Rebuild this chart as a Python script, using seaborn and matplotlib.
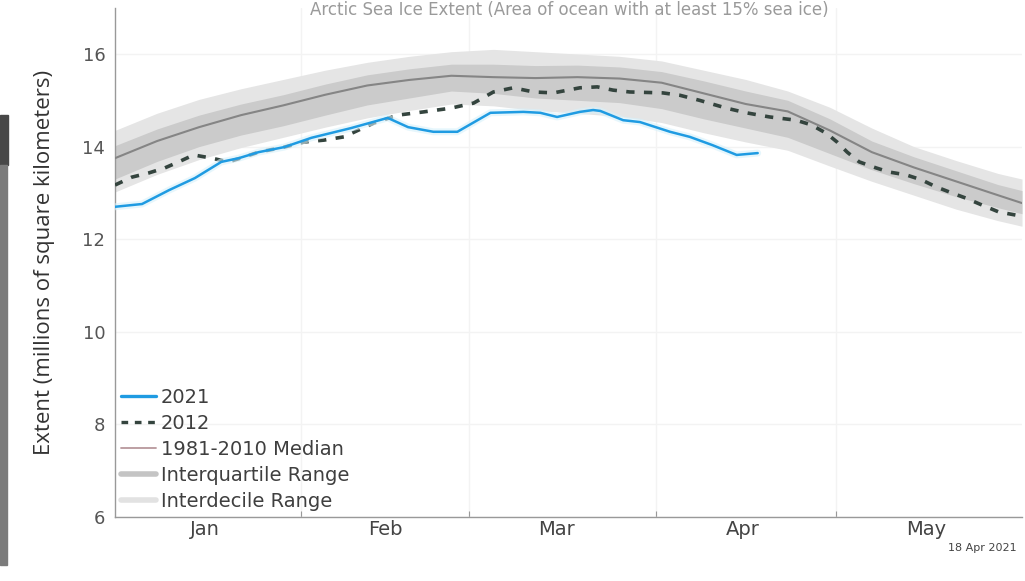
import matplotlib
matplotlib.use("Agg")
import matplotlib.pyplot as plt
import matplotlib.patheffects as pe
from matplotlib.lines import Line2D
from matplotlib.patches import Rectangle
import pandas as pd
import seaborn as sns

# ---- data (day of year, Jan 1 = 0; extent in millions of km^2) ----
clim_days = [0, 7, 14, 21, 28, 35, 42, 49, 56, 63, 70, 77, 84, 91, 98, 105,
             112, 119, 126, 133, 140, 147, 151]
median_1981_2010 = [13.75, 14.12, 14.42, 14.68, 14.89, 15.12, 15.32, 15.44, 15.53,
                    15.50, 15.48, 15.50, 15.47, 15.38, 15.15, 14.92, 14.76, 14.35,
                    13.88, 13.55, 13.25, 12.95, 12.78]
interdecile_hi = [14.35, 14.72, 15.02, 15.25, 15.45, 15.65, 15.82, 15.95, 16.05,
                  16.10, 16.05, 16.00, 15.95, 15.85, 15.65, 15.45, 15.20, 14.85,
                  14.40, 14.00, 13.70, 13.42, 13.30]
interquartile_hi = [14.02, 14.38, 14.68, 14.92, 15.12, 15.35, 15.55, 15.68, 15.78,
                    15.78, 15.75, 15.76, 15.72, 15.62, 15.42, 15.20, 15.00, 14.60,
                    14.12, 13.78, 13.48, 13.18, 13.05]
interquartile_lo = [13.30, 13.68, 14.00, 14.25, 14.45, 14.68, 14.90, 15.05, 15.20,
                    15.15, 15.05, 15.00, 14.95, 14.82, 14.60, 14.40, 14.20, 13.85,
                    13.50, 13.20, 12.92, 12.68, 12.55]
interdecile_lo = [13.02, 13.40, 13.72, 13.98, 14.20, 14.42, 14.62, 14.78, 14.92,
                  14.88, 14.78, 14.72, 14.65, 14.52, 14.30, 14.10, 13.92, 13.58,
                  13.25, 12.95, 12.65, 12.40, 12.28]

days_2021 = [0, 4.5, 9, 13.3, 17.7, 20.6, 23.9, 28.2, 32.7, 39.3, 45.4, 48.8, 53,
             57, 62.5, 68, 70.8, 73.6, 77.4, 79.6, 80.8, 84.6, 87.4, 92.4, 95.7,
             99.5, 103.5, 107]
extent_2021 = [12.70, 12.76, 13.06, 13.32, 13.67, 13.75, 13.88, 13.99, 14.19, 14.40,
               14.62, 14.42, 14.32, 14.32, 14.73, 14.75, 14.73, 14.64, 14.75, 14.79,
               14.77, 14.57, 14.53, 14.32, 14.21, 14.03, 13.82, 13.86]

days_2012 = [0, 2.8, 5.6, 8.3, 10.6, 13.1, 16.1, 18.9, 21.6, 23.9, 28.2, 31.5, 34.8,
             38.1, 43.1, 47.1, 51.4, 55.9, 59.7, 63, 66.3, 69.7, 73, 77.4, 80.3,
             82.9, 85.7, 91.2, 94, 97.3, 101.8, 105.1, 109, 113.4, 115.9, 118.4,
             120.2, 121.9, 123.9, 126.7, 128.9, 131.7, 134.3, 136.7, 139.3, 141.6,
             144.3, 147.1, 150]
extent_2012 = [13.17, 13.34, 13.43, 13.54, 13.67, 13.82, 13.75, 13.67, 13.78, 13.88,
               13.99, 14.10, 14.14, 14.21, 14.51, 14.68, 14.75, 14.83, 14.94, 15.18,
               15.27, 15.18, 15.16, 15.27, 15.29, 15.22, 15.18, 15.16, 15.11, 15.00,
               14.83, 14.73, 14.64, 14.57, 14.47, 14.29, 14.10, 13.88, 13.67, 13.54,
               13.45, 13.39, 13.28, 13.13, 13.00, 12.89, 12.74, 12.59, 12.52]

month_starts = [31, 59, 90, 120]
month_mids = [15, 45, 73.5, 104.5, 135]
month_labels = ["Jan", "Feb", "Mar", "Apr", "May"]
y_ticks = [6, 8, 10, 12, 14, 16]

# ---- styling ----
sns.set_theme(style="white")
plt.rcParams["font.family"] = ["DejaVu Sans"]

BLUE = "#1f9be2"
DASH = "#34443e"
MEDIAN = "#858585"
IQR = "#cbcbcb"
IDR = "#e5e5e5"

fig = plt.figure(figsize=(10.25, 5.81), dpi=100)
ax = fig.add_axes([115 / 1025, 64 / 581, 907 / 1025, 509.3 / 581])

clim = pd.DataFrame({
    "day": clim_days,
    "median": median_1981_2010,
    "id_hi": interdecile_hi, "iq_hi": interquartile_hi,
    "iq_lo": interquartile_lo, "id_lo": interdecile_lo,
})
ax.fill_between(clim["day"], clim["id_lo"], clim["id_hi"], color=IDR, lw=0, zorder=1)
ax.fill_between(clim["day"], clim["iq_lo"], clim["iq_hi"], color=IQR, lw=0, zorder=2)
sns.lineplot(data=clim, x="day", y="median", ax=ax, color=MEDIAN, lw=1.5,
             legend=False, zorder=3)

d2012 = pd.DataFrame({"day": days_2012, "extent": extent_2012})
sns.lineplot(data=d2012, x="day", y="extent", ax=ax, color=DASH, lw=2.6,
             legend=False, zorder=4)
ax.lines[-1].set_linestyle((0, (2.3, 2.6)))

d2021 = pd.DataFrame({"day": days_2021, "extent": extent_2021})
sns.lineplot(data=d2021, x="day", y="extent", ax=ax, color=BLUE, lw=1.8,
             legend=False, zorder=5)
ax.lines[-1].set_path_effects([pe.Stroke(linewidth=5, foreground="#d6f1fb", alpha=0.6),
                               pe.Normal()])

# ---- axes ----
ax.set_xlim(0, 151)
ax.set_ylim(6, 17)
ax.set_xlabel("")
ax.set_ylabel("Extent (millions of square kilometers)", fontsize=16,
              color="#333333", labelpad=20, family=["Open Sans", "DejaVu Sans"])

ax.set_xticks(month_starts)
ax.set_xticklabels([])
ax.set_xticks(month_mids, minor=True)
ax.set_xticklabels(month_labels, minor=True, fontsize=14, color="#444444")
ax.tick_params(axis="x", which="major", direction="in", length=4, width=0.8,
               color="#999999", bottom=True)
ax.tick_params(axis="x", which="minor", length=0, pad=2)
ax.set_yticks(y_ticks)
ax.set_yticklabels([str(v) for v in y_ticks], fontsize=13, color="#555555")
ax.tick_params(axis="y", length=0, pad=7)

ax.grid(True, axis="both", which="major", color="#f3f3f3", lw=1)
ax.set_axisbelow(True)
for side in ("top", "right"):
    ax.spines[side].set_visible(False)
for side in ("left", "bottom"):
    ax.spines[side].set_color("#999999")
    ax.spines[side].set_linewidth(1.0)

handles = [
    Line2D([], [], color=BLUE, lw=2.4),
    Line2D([], [], color=DASH, lw=2.4, ls=(0, (2.0, 2.0))),
    Line2D([], [], color="#b8979c", lw=1.3),
    Line2D([], [], color="#c4c4c4", lw=4),
    Line2D([], [], color="#e2e2e2", lw=4),
]
labels = ["2021", "2012", "1981-2010 Median", "Interquartile Range", "Interdecile Range"]
ax.legend(handles, labels, loc="lower left", bbox_to_anchor=(0.0, 0.0),
          frameon=False, fontsize=14, handlelength=1.8, handletextpad=0.25,
          labelspacing=0.36, borderpad=0.15, borderaxespad=0.15,
          labelcolor="#3f3f3f")

fig.text(1017 / 1025, 1 - 548 / 581, "18 Apr 2021", ha="right", va="center",
         fontsize=8, color="#444444")

# faint chart title along the top edge
fig.text(0.555, 1 - 1 / 581, "Arctic Sea Ice Extent (Area of ocean with at least 15% sea ice)",
         ha="center", va="top", fontsize=12, color="#9a9a9a")

# dark side strip
fig.patches.append(Rectangle((0, 1 - 165 / 581), 8 / 1025, 50 / 581,
                             transform=fig.transFigure, color="#474747", zorder=0))
fig.patches.append(Rectangle((0, 1 - 565 / 581), 7 / 1025, 400 / 581,
                             transform=fig.transFigure, color="#7b7b7b", zorder=0))

fig.savefig("out.png", dpi=100)
